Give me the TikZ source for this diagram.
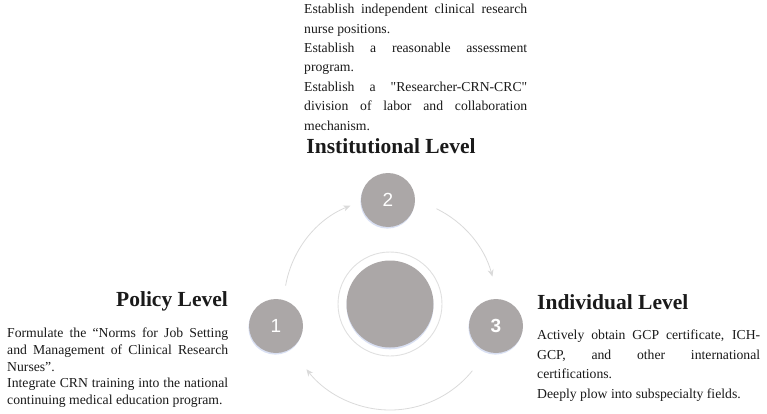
\documentclass[tikz,border=0pt]{standalone}
\usepackage{fontspec}
\setmainfont{Liberation Serif}
\newfontfamily\rawserif{Liberation Serif}
\newfontfamily\numfont{Liberation Sans}
\usepackage{xcolor}
\usepackage{tikz}
\usetikzlibrary{
  arrows.meta, positioning, calc, shadows
}
\definecolor{greyA}{HTML}{ABA7A7}
\definecolor{greyB}{HTML}{DADADA}
\definecolor{greyC}{HTML}{E0E0E0}
\definecolor{shadeA}{HTML}{C9D3EE}
\definecolor{inkA}{HTML}{1A1A1A}
\newcommand{\nohyph}{\hyphenpenalty10000\relax}
\newcommand{\dq}{{\rawserif\symbol{34}}}
\tikzset{
  stepdot/.style={
    circle, fill=greyA, minimum size=54pt, inner sep=0pt,
    text=white, font=\numfont\fontsize{19}{19}\selectfont,
    drop shadow={shadow xshift=-0.6pt, shadow yshift=-1.6pt, fill=shadeA, opacity=0.7}
  },
  ring/.style={
    circle, draw=greyC, fill=white, line width=0.9pt,
    minimum size=104pt, inner sep=0pt
  },
  core/.style={
    circle, fill=greyA, minimum size=87pt, inner sep=0pt,
    drop shadow={shadow xshift=0pt, shadow yshift=-1.8pt, fill=shadeA, opacity=0.7}
  },
  level/.style={font=\bfseries\fontsize{21.5}{24}\selectfont, text=inkA, inner sep=0pt},
  note/.style={
    text width=#1, align=justify, inner sep=0pt, text=inkA,
    font=\fontsize{13.7}{19.4}\selectfont\nohyph
  },
  flow/.style={-{Stealth[length=7pt, width=6pt]}, line width=0.8pt, color=greyB}
}

\begin{document}
\begin{tikzpicture}[x=1pt, y=1pt]
  \useasboundingbox (0,0) rectangle (767,413);
  % centre of the cycle
  \coordinate (hub) at (390,109);
  \node[ring] (outer) at (hub) {};
  \node[core] (inner) at (hub) {};

  % the three levels
  \node[stepdot] (n1) at (276,87) {1};
  \node[stepdot] (n2) at (388,213) {2};
  \node[stepdot] (n3) at (496,87) {\bfseries 3};

  % arcs between them
  \coordinate (a12) at ($(hub)+(170:106)$);
  \coordinate (a23) at ($(hub)+(64:106)$);
  \coordinate (a31) at ($(hub)+(-39:106)$);
  \draw[flow] (a12) arc[start angle=170, end angle=112, radius=106];
  \draw[flow] (a23) arc[start angle=64, end angle=15, radius=106];
  \draw[flow] (a31) arc[start angle=-39, end angle=-142, radius=106];

  % headings
  \node[level, anchor=base] (inst) at (391,260) {Institutional Level};
  \node[level, anchor=base east] (policy) at (228,107) {Policy Level};
  \node[level, anchor=base west] (indiv) at (537,104) {Individual Level};

  % texts
  \node[note=223pt, anchor=north west] (instnote) at (304,409) {
    Establish independent clinical research nurse positions.\par
    Establish a reasonable assessment program.\par
    Establish a \dq Researcher-CRN-CRC\dq{} division of labor and collaboration mechanism.
  };
  \node[note=221pt, anchor=north west, font=\fontsize{13.7}{16.6}\selectfont\nohyph] (policynote) at (7,85) {
    Formulate the “Norms for Job Setting and Management of Clinical Research Nurses”.\par
    Integrate CRN training into the national continuing medical education program.
  };
  \node[note=223pt, anchor=north west] (indivnote) at (537,83) {
    Actively obtain GCP certificate, ICH-\linebreak GCP, and other international certifications.\par
    Deeply plow into subspecialty fields.
  };
\end{tikzpicture}
\end{document}
